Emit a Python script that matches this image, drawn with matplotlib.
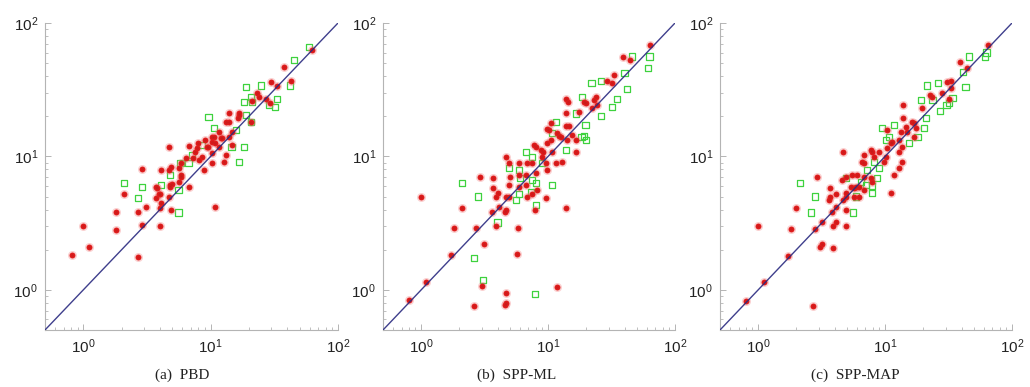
import matplotlib
matplotlib.use("Agg")
import matplotlib.pyplot as plt
from matplotlib.ticker import LogLocator, LogFormatterSciNotation

plt.rcParams['mathtext.fontset'] = 'custom'
plt.rcParams['mathtext.rm'] = 'Liberation Sans'
plt.rcParams['mathtext.it'] = 'Liberation Sans:italic'
plt.rcParams['font.family'] = ['Liberation Sans', 'DejaVu Sans']

captions = ["(a)  PBD", "(b)  SPP-ML", "(c)  SPP-MAP"]
axis_limits = [0.5, 100]
diag_values = [0.5, 100]

# ---------------- Panel (a) PBD ----------------
a_red_x = [62, 38, 43, 30, 33, 23, 24, 27, 29, 21, 16.6, 13.9, 16.3, 13.9, 20.6, 11.6, 14.6, 13.9, 12, 10.2,
           9.1, 8.0, 9.3, 11.6, 6.7, 4.7, 7.6, 10.2, 13.1, 12.7, 10.2, 8.5, 6.4, 5.8, 4.9, 4.1, 5.6, 2.9, 5.8, 5.6,
           4.8, 3.8, 2.1, 6.7, 3.7, 5.0, 3.7, 4.0, 4.1, 4.7, 3.1, 4.9, 1.8, 2.7, 4.0, 10.9, 1.0, 1.8, 2.9, 4.0,
           1.1, 0.82, 2.7, 5.9, 7.8, 9.6, 10.2, 10.6, 10.9, 12.2, 14.6, 8.8, 8.05, 7.3, 4.8, 3.9, 4.7, 13.1, 16.6]
a_red_y = [63, 47, 37, 36, 34, 30, 28, 27, 25, 26, 21, 21, 19.4, 18, 18, 15.3, 15.3, 14, 13.8, 14,
           13.3, 12.6, 11.8, 11.8, 12, 11.8, 10.8, 10.6, 10.3, 9.1, 8.9, 9.9, 9.7, 8.9, 8.3, 7.9, 8.2, 8.1, 7.3, 6.4,
           6.1, 5.8, 5.2, 5.9, 5.9, 6.2, 4.9, 5.2, 4.5, 5.0, 4.2, 4.0, 3.8, 3.8, 4.1, 4.2, 3.0, 2.8, 3.05, 3.0,
           2.1, 1.83, 1.77, 7.0, 11.6, 11.8, 12.8, 14, 12.6, 13.8, 12.2, 7.9, 9.4, 9.7, 5.9, 5.2, 7.9, 18, 20.5]
a_green_x = [59, 45, 42, 25, 19, 33, 32, 28.6, 20.6, 18.2, 21, 9.6, 18.9, 10.6, 15.7, 14.6, 18.2, 16.6, 8.5,
             7.1, 6.7, 5.8, 4.8, 4.1, 2.9, 2.1, 2.7, 5.6, 5.6, 20.6]
a_green_y = [66, 53, 34, 34, 33, 27, 23.5, 24.3, 28, 25.6, 25.6, 19.8, 20.5, 16.3, 15.8, 11.8, 11.8, 9.1, 12.2,
             10.3, 8.9, 8.9, 7.3, 6.1, 5.9, 6.3, 4.9, 5.6, 3.8, 18]

# ---------------- Panel (b) SPP-ML ----------------
b_red_x = [63, 39, 44, 33, 29, 32, 24, 23, 20, 24.5, 22, 13.9, 13.9, 17.6, 10.6, 10.2, 14.7, 11.8, 12.7, 15.5,
           14.2, 16.7, 16.7, 7.7, 9.8, 10.8, 8.8, 9.0, 11.6, 12.9, 4.7, 4.9, 5.9, 6.8, 7.5, 9.6, 9.8, 8.0, 6.7, 5.9,
           5.0, 2.9, 3.7, 3.7, 4.9, 6.7, 8.2, 4.0, 4.7, 1.0, 9.6, 7.5, 2.1, 3.9, 4.1, 3.6, 4.9, 4.7, 4.6, 5.9,
           6.8, 7.9, 13.9, 1.8, 2.7, 3.9, 3.1, 5.8, 5.7, 1.73, 1.1, 0.8, 3.0, 4.7, 4.65, 4.6, 2.6, 11.8, 8.0, 9.1,
           10.6, 12.2, 9.8, 13.9, 14.4, 19.3]
b_red_y = [68, 56, 53, 41, 37, 35.5, 28, 26.5, 25, 24.3, 23, 27, 21, 21.5, 17.8, 15.8, 16.9, 15, 14, 14.5,
           13.3, 13.3, 10.8, 12.2, 12.6, 10.8, 11.2, 9.9, 8.9, 9.1, 9.9, 8.9, 8.9, 8.9, 8.9, 8.9, 7.9, 7.5, 7.3, 7.3,
           7.0, 7.0, 6.9, 5.8, 6.1, 6.1, 5.6, 5.3, 5.0, 5.0, 4.9, 5.2, 4.1, 5.0, 4.2, 3.8, 5.0, 4.0, 3.8, 5.9,
           5.0, 4.0, 4.1, 2.9, 2.9, 3.0, 2.2, 2.9, 1.86, 1.83, 1.15, 0.84, 1.07, 0.95, 0.8, 0.77, 0.76, 1.05, 11.8, 10.8,
           13.3, 14.2, 16.1, 16.9, 25.6, 25.6]
b_green_x = [46, 63, 61, 40, 42, 35, 32, 26, 22, 26, 18.6, 16.7, 19.7, 11.6, 10.8, 18.3, 20, 19.3, 13.9, 6.7,
             7.5, 9.0, 4.9, 5.9, 6.0, 7.5, 10.8, 2.1, 2.8, 5.9, 8.0, 5.6, 8.0, 4.0, 2.6, 3.05, 7.9, 7.3]
b_green_y = [56, 56, 46, 42, 32, 27, 23.5, 20, 35.5, 37, 28, 21, 17.2, 18, 15, 14, 13.3, 14.2, 11.2, 10.8,
             9.9, 8.9, 8.2, 7.9, 6.9, 6.7, 6.1, 6.3, 5.0, 5.2, 6.3, 4.7, 4.3, 3.2, 1.74, 1.19, 0.93, 5.4]

# ---------------- Panel (c) SPP-MAP ----------------
c_red_x = [65, 39, 44, 33, 30.5, 33, 28, 32, 23.6, 22.4, 19.7, 13.9, 13.9, 16.4, 17.6, 14.9, 17, 12.9, 11.4, 10.4,
           13.6, 12.9, 13.6, 11.8, 11.2, 9.0, 7.7, 8.2, 6.8, 6.8, 10.2, 9.8, 10.4, 4.7, 4.9, 5.5, 6.0, 6.8, 7.9, 6.2,
           5.4, 6.8, 2.9, 3.7, 4.6, 4.1, 4.9, 5.7, 2.0, 3.7, 4.9, 6.2, 3.8, 4.1, 4.9, 4.7, 1.0, 1.8, 2.8, 3.16,
           3.9, 4.1, 4.9, 3.05, 3.16, 3.9, 1.73, 1.12, 0.8, 2.7, 5.9, 3.6, 5.7, 6.6, 7.9, 7.7, 12.9, 11.2, 13.4, 14.7,
           17]
c_red_y = [68, 51, 46, 37, 36, 32.6, 30, 27, 28, 29, 23, 24.3, 19.4, 18, 16.3, 15.3, 14, 13.3, 12.8, 15.8,
           11.8, 10.8, 9.1, 7.3, 5.3, 10.8, 11.2, 9.9, 10.3, 8.9, 9.9, 9.1, 11.6, 10.8, 7.0, 7.3, 7.3, 7.0, 6.4, 5.9,
           5.9, 5.6, 7.0, 5.8, 6.7, 5.2, 5.3, 5.0, 4.1, 5.0, 5.0, 5.0, 3.84, 4.2, 4.0, 4.7, 3.0, 2.86, 2.86, 3.2,
           3.0, 3.2, 3.0, 2.1, 2.2, 2.06, 1.8, 1.15, 0.83, 0.76, 5.9, 4.7, 5.8, 9.1, 10.8, 6.9, 8.2, 12.6, 15.3, 16.6,
           17.8]
c_green_x = [46, 61, 63, 41, 43, 26, 21.5, 19.3, 23.6, 27, 32, 34, 30.5, 21, 20.4, 18, 15.5, 11.8, 9.5, 10.8,
             10.2, 9.0, 7.2, 8.6, 7.1, 6.5, 2.15, 2.8, 7.9, 2.6, 5.6, 5.9, 7.9, 8.2, 4.9]
c_green_y = [56, 56, 60, 43, 33, 35.5, 34, 26.5, 26.5, 22, 25, 27.4, 24.3, 19.4, 16.3, 14, 12.6, 17.2, 16.3, 14,
             13.3, 8.2, 7.9, 6.9, 6.1, 6.4, 6.3, 5.0, 5.3, 3.8, 3.8, 5.0, 6.0, 9.1, 6.9]

panels = [
    (a_red_x, a_red_y, a_green_x, a_green_y),
    (b_red_x, b_red_y, b_green_x, b_green_y),
    (c_red_x, c_red_y, c_green_x, c_green_y),
]

W, H = 1030, 387
fig = plt.figure(figsize=(W / 100, H / 100), dpi=100)

axes_px = [(45, 338), (383, 675), (720, 1012)]
bottom_px, top_px = 330, 23
caption_x_px = [182, 517, 855]

for i, ((rx, ry, gx, gy), (l, r)) in enumerate(zip(panels, axes_px)):
    ax = fig.add_axes([l / W, (H - bottom_px) / H, (r - l) / W, (bottom_px - top_px) / H])
    ax.set_xscale('log')
    ax.set_yscale('log')
    ax.set_xlim(axis_limits)
    ax.set_ylim(axis_limits)
    # green open squares
    ax.scatter(gx, gy, marker='s', s=20, facecolors='none', edgecolors='#3ed23e',
               linewidths=0.9, zorder=2)
    # red dots with soft halo
    ax.scatter(rx, ry, marker='o', s=42, color='#f27a7a', alpha=0.35, linewidths=0, zorder=3)
    ax.scatter(rx, ry, marker='o', s=18, color='#e01c1c', linewidths=0, zorder=4)
    ax.scatter(rx, ry, marker='o', s=5, color='#b01818', alpha=0.35, linewidths=0, zorder=4)
    # diagonal
    ax.plot(diag_values, diag_values, color='#2a2a80', lw=1.0, zorder=5, alpha=0.9)

    for s in ['top', 'right']:
        ax.spines[s].set_visible(False)
    for s in ['left', 'bottom']:
        ax.spines[s].set_color('#b4b4b4')
        ax.spines[s].set_linewidth(0.8)
    ax.xaxis.set_major_locator(LogLocator(base=10, numticks=5))
    ax.yaxis.set_major_locator(LogLocator(base=10, numticks=5))
    ax.xaxis.set_minor_locator(LogLocator(base=10, subs=range(2, 10), numticks=20))
    ax.yaxis.set_minor_locator(LogLocator(base=10, subs=range(2, 10), numticks=20))
    ax.xaxis.set_major_formatter(LogFormatterSciNotation())
    ax.yaxis.set_major_formatter(LogFormatterSciNotation())
    ax.tick_params(which='both', direction='in', color='#b4b4b4', labelsize=11,
                   labelcolor='#222222')
    ax.tick_params(which='major', length=4, width=0.7, pad=5)
    ax.tick_params(which='minor', length=2, width=0.6)
    fig.text(caption_x_px[i] / W, (H - 375) / H, captions[i], ha='center', va='center',
             family=['Liberation Serif', 'DejaVu Serif'], fontsize=11, color='#222222')

fig.savefig('out.png', dpi=100, facecolor='white')
